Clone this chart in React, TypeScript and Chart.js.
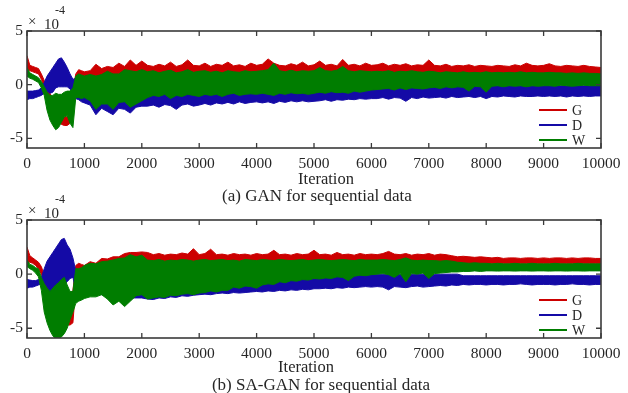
import React, { useEffect, useRef } from "react";
import { Chart, registerables } from "chart.js";

Chart.register(...registerables);

// ---------- data ----------
const ITER = [
  0, 50, 100, 150, 200, 250, 300, 350, 400, 450, 500, 550, 600, 650, 700, 750, 800, 850, 900, 950, 1000,
  1100, 1200, 1300, 1400, 1500, 1600, 1700, 1800, 1900, 2000,
  2100, 2200, 2300, 2400, 2500, 2600, 2700, 2800, 2900, 3000,
  3100, 3200, 3300, 3400, 3500, 3600, 3700, 3800, 3900, 4000,
  4100, 4200, 4300, 4400, 4500, 4600, 4700, 4800, 4900, 5000,
  5100, 5200, 5300, 5400, 5500, 5600, 5700, 5800, 5900, 6000,
  6100, 6200, 6300, 6400, 6500, 6600, 6700, 6800, 6900, 7000,
  7100, 7200, 7300, 7400, 7500, 7600, 7700, 7800, 7900, 8000,
  8100, 8200, 8300, 8400, 8500, 8600, 8700, 8800, 8900, 9000,
  9100, 9200, 9300, 9400, 9500, 9600, 9700, 9800, 9900, 10000,
];
const X_TICKS = [0, 1000, 2000, 3000, 4000, 5000, 6000, 7000, 8000, 9000, 10000];
const Y_TICKS = [-5, 0, 5];
const LEGEND = ["G", "D", "W"];
const CAPTIONS = ["(a) GAN for sequential data", "(b) SA-GAN for sequential data"];
const X_TITLE = "Iteration";

// (a) GAN — upper / lower envelopes of each noisy trace (x1e-4)
const A_G_UP = [
  2.7, 1.8, 1.7, 1.6, 1.5, 1.0, 0.4, -0.1, -0.8, -1.5, -2.2, -2.6, -2.9, -3.0, -3.0, -2.8, -0.5, 1.0, 1.4, 1.3, 1.2,
  1.3, 1.9, 1.5, 1.7, 1.6, 2.0, 1.7, 2.3, 1.8, 2.2,
  1.8, 1.7, 1.9, 1.75, 2.1, 1.7, 1.85, 2.3, 1.8, 1.75,
  2.0, 1.7, 1.9, 1.8, 2.1, 1.75, 1.85, 1.7, 2.0, 1.8,
  1.9, 2.4, 2.0, 1.8, 1.75, 1.95, 1.8, 2.1, 1.75, 1.85,
  2.2, 1.8, 1.9, 1.75, 2.35, 1.8, 1.9, 1.75, 2.0, 1.8,
  1.85, 2.0, 1.75, 1.9, 1.8, 1.95, 1.75, 1.85, 1.8, 2.3,
  1.8, 1.75, 1.9, 1.7, 1.8, 1.75, 1.85, 1.7, 1.8, 1.75,
  1.7, 1.8, 1.75, 1.7, 1.85, 1.75, 2.0, 1.8, 1.75, 1.8,
  1.95, 1.75, 1.7, 1.8, 1.75, 1.7, 1.8, 1.7, 1.65, 1.6,
];
const A_G_LO = [
  1.5, 1.3, 1.2, 1.1, 1.0, 0.5, -0.3, -0.8, -1.5, -2.5, -3.2, -3.5, -3.7, -3.8, -3.8, -3.6, -3.0, -0.5, 0.2, 0.2, 0.2,
  0.3, 0.3, 0.3, 0.3, 0.3, 0.3, 0.3, 0.3, 0.3, 0.3,
  0.8, 0.8, 0.8, 0.8, 0.8, 0.8, 0.8, 0.8, 0.8, 0.8,
  0.8, 0.8, 0.8, 0.8, 0.8, 0.8, 0.8, 0.8, 0.8, 0.8,
  0.8, 0.8, 0.8, 0.8, 0.8, 0.8, 0.8, 0.8, 0.8, 0.8,
  0.8, 0.8, 0.8, 0.8, 0.8, 0.8, 0.8, 0.8, 0.8, 0.8,
  0.8, 0.8, 0.8, 0.8, 0.8, 0.8, 0.8, 0.8, 0.8, 0.8,
  0.8, 0.8, 0.8, 0.8, 0.8, 0.8, 0.8, 0.8, 0.8, 0.8,
  0.8, 0.8, 0.8, 0.8, 0.8, 0.8, 0.8, 0.8, 0.8, 0.8,
  0.8, 0.8, 0.8, 0.8, 0.8, 0.8, 0.8, 0.8, 0.8, 0.8,
];
const A_D_UP = [
  -0.6, -0.6, -0.6, -0.55, -0.5, -0.3, 0.2, 0.8, 1.2, 1.6, 2.0, 2.4, 2.5, 2.1, 1.6, 1.0, 0.5, 0.6, 0.5, 0.3, 0.2,
  -0.5, -0.5, -0.5, -0.5, -0.5, -0.5, -0.5, -0.5, -0.5, -0.5,
  -0.5, -0.5, -0.5, -0.5, -0.5, -0.5, -0.5, -0.5, -0.5, -0.5,
  -0.5, -0.5, -0.5, -0.5, -0.5, -0.5, -0.5, -0.5, -0.5, -0.5,
  -0.5, -0.5, -0.5, -0.5, -0.5, -0.5, -0.5, -0.5, -0.5, -0.5,
  -0.5, -0.5, -0.5, -0.5, -0.5, -0.5, -0.5, -0.5, -0.5, -0.5,
  -0.1, -0.1, -0.1, -0.1, -0.1, -0.1, -0.1, -0.1, -0.1, -0.1,
  -0.1, -0.1, -0.1, -0.1, -0.1, -0.1, -0.1, -0.1, -0.1, -0.1,
  -0.1, -0.1, -0.1, -0.1, -0.1, -0.1, -0.1, -0.1, -0.1, -0.1,
  -0.1, -0.1, -0.1, -0.1, -0.1, -0.1, -0.1, -0.1, -0.1, -0.1,
];
const A_D_LO = [
  -1.4, -1.3, -1.3, -1.2, -1.1, -1.0, -0.8, -0.6, -0.8, -0.7, -0.3, -0.2, -0.2, -0.2, -0.2, -0.4, -0.8, -1.3, -1.4, -1.6, -1.7,
  -1.9, -2.8, -2.2, -2.5, -2.8, -2.2, -2.3, -2.65, -2.1, -2.0,
  -2.0, -1.9, -2.1, -1.85, -1.95, -2.3, -1.9, -1.8, -2.0, -1.9,
  -1.75, -1.9, -1.7, -1.8, -1.65, -1.8, -1.6, -1.75, -1.65, -1.6,
  -1.7, -1.6, -1.75, -1.55, -1.65, -1.5, -1.6, -1.5, -1.6, -1.55,
  -1.5, -1.4, -1.55, -1.4, -1.45, -1.35, -1.4, -1.3, -1.35, -1.3,
  -1.3, -1.2, -1.35, -1.2, -1.25, -1.55, -1.2, -1.3, -1.15, -1.25,
  -1.2, -1.15, -1.25, -1.1, -1.2, -1.15, -1.1, -1.2, -1.1, -1.3,
  -1.1, -1.15, -1.05, -1.1, -1.15, -1.05, -1.1, -1.1, -1.05, -1.1,
  -1.05, -1.1, -1.05, -1.15, -1.05, -1.1, -1.05, -1.1, -1.05, -1.05,
];
const A_W_UP = [
  1.6, 1.1, 0.95, 0.8, 0.65, 0.3, -0.2, -0.7, -1.0, -1.0, -0.8, -0.9, -0.9, -0.7, -0.6, -0.6, -0.3, 0.8, 1.0, 0.9, 0.8,
  0.95, 0.8, 0.95, 1.25, 1.0, 1.0, 1.4, 1.3, 1.2, 1.4,
  1.2, 1.3, 1.1, 1.25, 1.35, 1.1, 1.2, 1.4, 1.15, 1.25,
  1.3, 1.15, 1.25, 1.1, 1.3, 1.2, 1.15, 1.3, 1.2, 1.25,
  1.3, 1.4, 2.0, 1.3, 1.2, 1.35, 1.2, 1.3, 1.25, 1.3,
  1.6, 1.3, 1.25, 1.35, 1.7, 1.3, 1.2, 1.3, 1.25, 1.2,
  1.25, 1.2, 1.3, 1.15, 1.25, 1.2, 1.3, 1.2, 1.15, 1.25,
  1.2, 1.1, 1.2, 1.15, 1.1, 1.2, 1.1, 1.15, 1.1, 1.2,
  1.1, 1.15, 1.1, 1.15, 1.1, 1.2, 1.1, 1.15, 1.1, 1.1,
  1.15, 1.1, 1.1, 1.05, 1.1, 1.05, 1.1, 1.05, 1.05, 1.0,
];
const A_W_LO = [
  0.8, 0.6, 0.5, 0.35, 0.2, -0.3, -1.0, -2.4, -3.3, -3.8, -4.2, -4.0, -3.5, -3.0, -2.9, -3.6, -4.0, -1.2, -1.2, -1.3, -1.2,
  -1.5, -2.3, -1.8, -1.8, -2.3, -1.65, -1.6, -2.1, -1.8, -1.5,
  -1.2, -1.0, -1.1, -0.9, -1.3, -1.0, -1.1, -0.9, -1.0, -1.1,
  -0.9, -1.0, -0.9, -1.1, -0.9, -0.8, -1.0, -0.9, -0.85, -0.9,
  -0.8, -0.9, -1.0, -0.8, -0.9, -0.75, -0.85, -0.8, -0.9, -0.8,
  -0.7, -0.8, -0.65, -0.75, -0.7, -0.8, -0.6, -0.7, -0.6, -0.5,
  -0.45, -0.4, -0.35, -0.5, -0.3, -0.45, -0.3, -0.35, -0.4, -0.3,
  -0.25, -0.35, -0.2, -0.3, -0.2, -0.25, -0.6, -0.15, -0.2, -0.7,
  -0.15, -0.1, -0.2, -0.1, -0.15, -0.1, -0.2, -0.1, -0.15, -0.1,
  -0.1, -0.15, -0.05, -0.1, -0.15, -0.1, -0.05, -0.1, -0.1, -0.1,
];

// (b) SA-GAN
const B_G_UP = [
  2.5, 1.7, 1.5, 1.3, 1.1, 0.7, -0.1, -0.8, -1.5, -2.0, -2.5, -2.8, -3.0, -3.0, -2.8, -2.5, -1.5, 0.8, 1.0, 0.9, 0.8,
  1.15, 1.0, 1.45, 1.4, 1.6, 1.6, 1.9, 2.0, 2.0, 2.05,
  2.0, 1.8, 1.9, 1.75, 1.85, 1.8, 1.95, 1.85, 2.35, 1.8,
  1.9, 2.3, 1.8, 1.85, 1.75, 1.9, 1.8, 1.85, 1.75, 1.9,
  1.8, 1.85, 2.2, 1.8, 1.85, 1.75, 1.9, 1.8, 1.85, 2.2,
  1.8, 1.85, 1.75, 2.0, 1.8, 1.85, 1.75, 1.9, 1.8, 1.85,
  1.8, 1.9, 2.1, 1.85, 1.8, 1.9, 1.75, 1.85, 1.8, 1.9,
  1.75, 1.85, 1.8, 1.7, 1.6, 1.65, 1.6, 1.55, 1.6, 1.55,
  1.5, 1.55, 1.45, 1.5, 1.5, 1.45, 1.5, 1.5, 1.45, 1.5,
  1.45, 1.5, 1.5, 1.45, 1.5, 1.45, 1.5, 1.5, 1.45, 1.45,
];
const B_G_LO = [
  1.1, 1.1, 1.0, 0.8, 0.5, 0.0, -0.8, -1.8, -2.5, -3.2, -3.8, -4.2, -4.5, -4.6, -4.7, -4.7, -4.5, -1.0, 0.0, 0.0, 0.0,
  0.5, 0.5, 0.5, 0.5, 0.5, 0.5, 0.5, 0.5, 0.5, 0.5,
  0.8, 0.8, 0.8, 0.8, 0.8, 0.8, 0.8, 0.8, 0.8, 0.8,
  0.8, 0.8, 0.8, 0.8, 0.8, 0.8, 0.8, 0.8, 0.8, 0.8,
  0.8, 0.8, 0.8, 0.8, 0.8, 0.8, 0.8, 0.8, 0.8, 0.8,
  0.8, 0.8, 0.8, 0.8, 0.8, 0.8, 0.8, 0.8, 0.8, 0.8,
  0.8, 0.8, 0.8, 0.8, 0.8, 0.8, 0.8, 0.8, 0.8, 0.8,
  0.8, 0.8, 0.8, 0.8, 0.8, 0.95, 0.95, 0.95, 0.95, 0.95,
  0.95, 0.95, 0.95, 0.95, 0.95, 0.95, 0.95, 0.95, 0.95, 0.95,
  0.95, 0.95, 0.95, 0.95, 0.95, 0.95, 0.95, 0.95, 0.95, 0.95,
];
const B_D_UP = [
  -0.5, -0.55, -0.6, -0.6, -0.5, -0.3, 0.5, 1.2, 1.6, 2.0, 2.4, 2.8, 3.2, 3.3, 2.7, 2.3, 1.5, 0.3, -0.5, -0.5, -0.5,
  -0.5, -0.5, -0.5, -0.5, -0.5, -0.5, -0.5, -0.5, -0.5, -0.5,
  -0.5, -0.5, -0.5, -0.5, -0.5, -0.5, -0.5, -0.5, -0.5, -0.5,
  -0.5, -0.5, -0.5, -0.5, -0.4, -0.4, -0.4, -0.4, -0.4, -0.4,
  -0.3, -0.3, -0.3, -0.3, -0.3, -0.2, -0.2, -0.2, -0.2, -0.2,
  -0.15, -0.15, -0.15, -0.15, -0.15, -0.15, 0.0, 0.0, 0.0, 0.0,
  0.0, 0.0, 0.0, 0.0, 0.0, 0.0, 0.0, 0.0, 0.0, 0.0,
  0.0, 0.0, 0.0, 0.0, 0.0, -0.15, -0.15, -0.15, -0.15, -0.15,
  -0.15, -0.15, -0.15, -0.15, -0.15, -0.15, -0.15, -0.15, -0.15, -0.15,
  -0.15, -0.15, -0.15, -0.15, -0.15, -0.15, -0.15, -0.15, -0.15, -0.15,
];
const B_D_LO = [
  -1.3, -1.2, -1.2, -1.1, -1.0, -0.9, -0.8, -1.2, -1.8, -1.9, -1.6, -1.4, -1.3, -1.0, -0.7, -0.4, -0.3, -1.5, -1.5, -1.5, -1.5,
  -1.8, -1.8, -1.9, -1.9, -2.0, -2.0, -2.1, -2.2, -2.2, -2.2,
  -2.3, -2.35, -2.2, -2.25, -2.1, -2.15, -2.0, -2.05, -1.95, -1.9,
  -1.85, -1.9, -1.8, -1.75, -1.8, -1.7, -1.75, -1.7, -1.65, -1.6,
  -1.65, -1.55, -1.6, -1.5, -1.55, -1.45, -1.5, -1.4, -1.45, -1.35,
  -1.35, -1.3, -1.35, -1.25, -1.3, -1.2, -1.25, -1.2, -1.15, -1.2,
  -1.15, -1.2, -1.45, -1.15, -1.2, -1.25, -1.15, -1.1, -1.2, -1.15,
  -1.1, -1.05, -1.1, -1.0, -1.05, -0.95, -1.0, -0.95, -0.95, -1.0,
  -0.95, -0.95, -1.0, -0.95, -0.95, -0.9, -0.95, -1.0, -0.95, -0.95,
  -0.95, -1.0, -0.95, -0.95, -0.9, -0.95, -0.95, -1.0, -0.95, -0.95,
];
const B_W_UP = [
  1.3, 0.9, 0.8, 0.6, 0.5, -0.3, -0.9, -1.3, -1.6, -1.3, -1.0, -0.8, -0.5, -0.3, -1.0, -1.6, -1.6, 0.5, 0.5, 0.6, 0.8,
  1.0, 0.95, 1.15, 1.2, 1.3, 1.45, 1.5, 1.8, 1.6, 1.75,
  1.3, 1.25, 1.35, 1.2, 1.3, 1.25, 1.35, 1.3, 1.2, 1.3,
  1.35, 1.25, 1.3, 1.35, 1.25, 1.3, 1.2, 1.35, 1.3, 1.25,
  1.35, 1.3, 1.25, 1.35, 1.3, 1.25, 1.3, 1.35, 1.25, 1.3,
  1.35, 1.3, 1.25, 1.3, 1.35, 1.3, 1.25, 1.35, 1.3, 1.3,
  1.3, 1.35, 1.3, 1.25, 1.35, 1.5, 1.3, 1.25, 1.3, 1.25,
  1.25, 1.2, 1.25, 1.2, 1.1, 1.05, 1.0, 1.05, 1.0, 1.0,
  0.95, 1.0, 0.95, 0.95, 1.0, 0.95, 0.95, 1.0, 0.95, 0.95,
  0.95, 1.0, 0.95, 0.95, 0.95, 1.0, 0.95, 0.95, 0.95, 0.95,
];
const B_W_LO = [
  0.7, 0.5, 0.35, 0.1, -0.25, -1.5, -3.5, -4.5, -5.2, -5.7, -6.0, -6.0, -5.8, -5.5, -5.0, -4.2, -3.5, -2.7, -2.5, -2.4, -2.25,
  -2.1, -2.1, -1.9, -2.3, -2.85, -2.5, -3.0, -2.5, -2.0, -1.9,
  -2.3, -2.2, -2.1, -2.15, -1.95, -2.0, -1.85, -1.8, -1.9, -1.75,
  -1.7, -1.55, -1.65, -1.5, -1.5, -1.2, -1.3, -1.1, -1.15, -1.3,
  -1.0, -0.9, -0.95, -0.7, -0.8, -0.6, -0.65, -0.5, -0.55, -0.4,
  -0.45, -0.35, -0.4, -0.25, -0.3, -0.6, -0.2, -0.1, -0.15, -0.05,
  0.0, 0.05, -0.05, -0.3, 0.05, -0.7, 0.05, 0.0, 0.1, -0.4,
  0.05, 0.1, 0.15, 0.2, 0.2, 0.25, 0.25, 0.3, 0.25, 0.3,
  0.3, 0.28, 0.3, 0.3, 0.28, 0.3, 0.3, 0.28, 0.3, 0.3,
  0.28, 0.3, 0.3, 0.28, 0.3, 0.3, 0.28, 0.3, 0.3, 0.3,
];

// ---------- styling ----------
const COLORS: Record<string, string> = { G: "#CC0000", D: "#140AA6", W: "#007D00" };
const FONT = "'Liberation Serif', 'Times New Roman', serif";
const TEXT = "#262626";
const FRAME = "#3a3a3a";

type Env = { up: number[]; lo: number[] };

function bandSets(key: string, env: Env) {
  const color = COLORS[key];
  const common = {
    borderColor: color,
    backgroundColor: color,
    borderWidth: 1,
    pointRadius: 0,
    tension: 0,
  };
  return [
    { ...common, label: key, data: ITER.map((x, i) => ({ x, y: env.up[i] })), fill: false },
    { ...common, label: key + "-lo", data: ITER.map((x, i) => ({ x, y: env.lo[i] })), fill: "-1" },
  ];
}

const framePlugin = {
  id: "matlabFrame",
  afterDatasetsDraw(chart: any) {
    const { ctx, chartArea: a, scales } = chart;
    ctx.save();
    ctx.strokeStyle = FRAME;
    ctx.lineWidth = 1.6;
    ctx.strokeRect(a.left, a.top, a.right - a.left, a.bottom - a.top);
    ctx.lineWidth = 1.3;
    ctx.beginPath();
    for (const v of X_TICKS) {
      const px = scales.x.getPixelForValue(v);
      ctx.moveTo(px, a.bottom);
      ctx.lineTo(px, a.bottom - 5);
      ctx.moveTo(px, a.top);
      ctx.lineTo(px, a.top + 5);
    }
    for (const v of Y_TICKS) {
      const py = scales.y.getPixelForValue(v);
      ctx.moveTo(a.left, py);
      ctx.lineTo(a.left + 5, py);
      ctx.moveTo(a.right, py);
      ctx.lineTo(a.right - 5, py);
    }
    ctx.stroke();

    // legend (inside, bottom-right)
    const rows = [-38, -23, -8];
    LEGEND.forEach((k, i) => {
      const y = a.bottom + rows[i];
      ctx.strokeStyle = COLORS[k];
      ctx.lineWidth = 2;
      ctx.beginPath();
      ctx.moveTo(a.right - 62, y);
      ctx.lineTo(a.right - 34, y);
      ctx.stroke();
      ctx.fillStyle = TEXT;
      ctx.font = `14px ${FONT}`;
      ctx.textBaseline = "middle";
      ctx.textAlign = "left";
      ctx.fillText(k, a.right - 29, y + 1);
    });

    // exponent label
    ctx.fillStyle = TEXT;
    ctx.textBaseline = "alphabetic";
    ctx.textAlign = "left";
    ctx.font = `15px ${FONT}`;
    ctx.fillText("\u00d7", a.left + 1, a.top - 5);
    ctx.fillText("10", a.left + 17, a.top - 2);
    ctx.font = `12px ${FONT}`;
    ctx.fillText("-4", a.left + 28, a.top - 17);
    ctx.restore();
  },
};

function makeConfig(series: Record<string, Env>, height: number, bottom: number): any {
  return {
    type: "line",
    data: {
      datasets: [...bandSets("W", series.W), ...bandSets("D", series.D), ...bandSets("G", series.G)],
    },
    options: {
      responsive: false,
      animation: false,
      events: [],
      layout: { padding: { top: 31, right: 27, left: 0, bottom: 0 } },
      plugins: { legend: { display: false }, tooltip: { enabled: false }, title: { display: false } },
      scales: {
        x: {
          type: "linear",
          min: 0,
          max: 10000,
          afterBuildTicks: (s: any) => {
            s.ticks = X_TICKS.map((v) => ({ value: v }));
          },
          afterFit: (s: any) => {
            s.height = height - bottom;
          },
          grid: { display: false, drawTicks: false },
          border: { display: false },
          ticks: {
            color: TEXT,
            font: { family: FONT, size: 15.5 },
            padding: 7,
            maxRotation: 0,
            autoSkip: false,
            callback: (v: any) => String(v),
          },
        },
        y: {
          type: "linear",
          min: -5.9,
          max: 5,
          afterBuildTicks: (s: any) => {
            s.ticks = Y_TICKS.map((v) => ({ value: v }));
          },
          afterFit: (s: any) => {
            s.width = 27;
          },
          grid: { display: false, drawTicks: false },
          border: { display: false },
          ticks: {
            color: TEXT,
            font: { family: FONT, size: 15.5 },
            padding: 4,
            callback: (v: any) => String(v),
          },
        },
      },
    },
    plugins: [framePlugin],
  };
}

function Panel(props: { top: number; height: number; bottom: number; series: Record<string, Env> }) {
  const ref = useRef<HTMLCanvasElement | null>(null);
  useEffect(() => {
    if (!ref.current) return;
    const chart = new Chart(ref.current, makeConfig(props.series, props.height, props.bottom));
    return () => chart.destroy();
  }, []);
  return (
    <canvas
      ref={ref}
      width={628}
      height={props.height}
      style={{ position: "absolute", left: 0, top: props.top, width: 628, height: props.height }}
    />
  );
}

const textStyle = (left: number, top: number, width: number, size: number): React.CSSProperties => ({
  position: "absolute",
  left,
  top,
  width,
  textAlign: "center",
  fontFamily: FONT,
  fontSize: size,
  lineHeight: "20px",
  color: TEXT,
  whiteSpace: "nowrap",
});

export default function App() {
  const seriesA = {
    G: { up: A_G_UP, lo: A_G_LO },
    D: { up: A_D_UP, lo: A_D_LO },
    W: { up: A_W_UP, lo: A_W_LO },
  };
  const seriesB = {
    G: { up: B_G_UP, lo: B_G_LO },
    D: { up: B_D_UP, lo: B_D_LO },
    W: { up: B_W_UP, lo: B_W_LO },
  };
  return (
    <div style={{ position: "absolute", left: 0, top: 0, width: 628, height: 393, background: "#fff", overflow: "hidden" }}>
      <Panel top={0} height={189} bottom={148} series={seriesA} />
      <Panel top={189} height={204} bottom={149} series={seriesB} />
      <div style={textStyle(226, 169, 200, 16.5)}>{X_TITLE}</div>
      <div style={textStyle(117, 186, 400, 17)}>{CAPTIONS[0]}</div>
      <div style={textStyle(206, 357, 200, 16.5)}>{X_TITLE}</div>
      <div style={textStyle(121, 375, 400, 17)}>{CAPTIONS[1]}</div>
    </div>
  );
}
